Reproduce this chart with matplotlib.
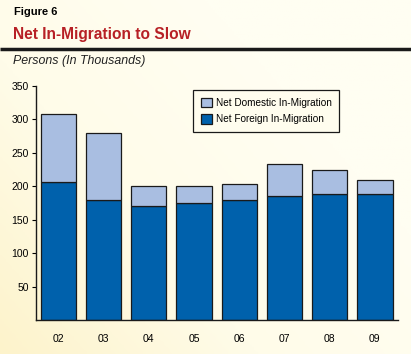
import numpy as np
import matplotlib.pyplot as plt
from matplotlib.colors import LinearSegmentedColormap

# Data (thousands of persons)
years = ['02', '03', '04', '05', '06', '07', '08', '09']
foreign = [206, 179, 170, 175, 179, 185, 189, 189]
total = [308, 280, 200, 200, 204, 234, 225, 210]
domestic = [t - f for t, f in zip(total, foreign)]

plt.rcParams['font.family'] = ['Liberation Sans', 'DejaVu Sans']

fig = plt.figure(figsize=(4.11, 3.54), dpi=100)

# cream background, a bit more yellow towards lower left
bg = fig.add_axes([0, 0, 1, 1], zorder=-10)
gx, gy = np.meshgrid(np.linspace(0, 1, 200), np.linspace(0, 1, 200))
grad = np.clip(0.8 * gx + 0.6 * gy, 0, 1)
cmap = LinearSegmentedColormap.from_list('cream', ['#FDF3CB', '#FFFCE9', '#FFFEF2'])
bg.imshow(grad, cmap=cmap, origin='lower', aspect='auto', extent=[0, 1, 0, 1])
bg.set_xlim(0, 1)
bg.set_ylim(0, 1)
bg.axis('off')

# header
fig.text(14 / 411, 1 - 12 / 354, 'Figure 6', fontsize=8, fontweight='bold', va='center')
fig.text(13 / 411, 1 - 35 / 354, 'Net In-Migration to Slow', fontsize=11.2,
         fontweight='bold', color='#B72025', va='center')
bg.plot([0, 1], [1 - 49 / 354, 1 - 49 / 354], color='#1a1a1a', lw=2.5,
        solid_capstyle='butt')
fig.text(13 / 411, 1 - 61 / 354, 'Persons (In Thousands)', fontsize=8.9,
         style='italic', color='#222222', va='center')

ax = fig.add_axes([36 / 411, 1 - 320 / 354, 362 / 411, 234 / 354])
ax.patch.set_alpha(0)
x = np.arange(len(years))
ax.bar(x, foreign, width=0.78, color='#0061AC', edgecolor='#1a1a1a', lw=0.9,
       label='Net Foreign In-Migration')
ax.bar(x, domestic, width=0.78, bottom=foreign, color='#A9BEE1',
       edgecolor='#1a1a1a', lw=0.9, label='Net Domestic In-Migration')

ax.set_xlim(-0.49, 7.51)
ax.set_ylim(0, 350)
ax.set_yticks([50, 100, 150, 200, 250, 300, 350])
ax.set_xticks(x)
ax.set_xticklabels(years)
ax.tick_params(axis='x', length=0, pad=10, labelsize=7.5)
ax.tick_params(axis='y', length=3, width=0.8, pad=2, labelsize=7.5)
for s in ['top', 'right']:
    ax.spines[s].set_visible(False)
for s in ['left', 'bottom']:
    ax.spines[s].set_linewidth(1.0)
    ax.spines[s].set_color('#1a1a1a')

h, l = ax.get_legend_handles_labels()
leg = ax.legend(h[::-1], l[::-1], loc='upper left', bbox_to_anchor=(152 / 362, 1 + 1 / 234),
                fontsize=7.2, frameon=True, fancybox=False, edgecolor='#1a1a1a',
                facecolor='#FFFDEE', framealpha=1, handlelength=1.1, handleheight=1.1,
                borderpad=0.75, labelspacing=0.65, handletextpad=0.4)
leg.get_frame().set_linewidth(0.9)

fig.savefig('out.png', dpi=100)
